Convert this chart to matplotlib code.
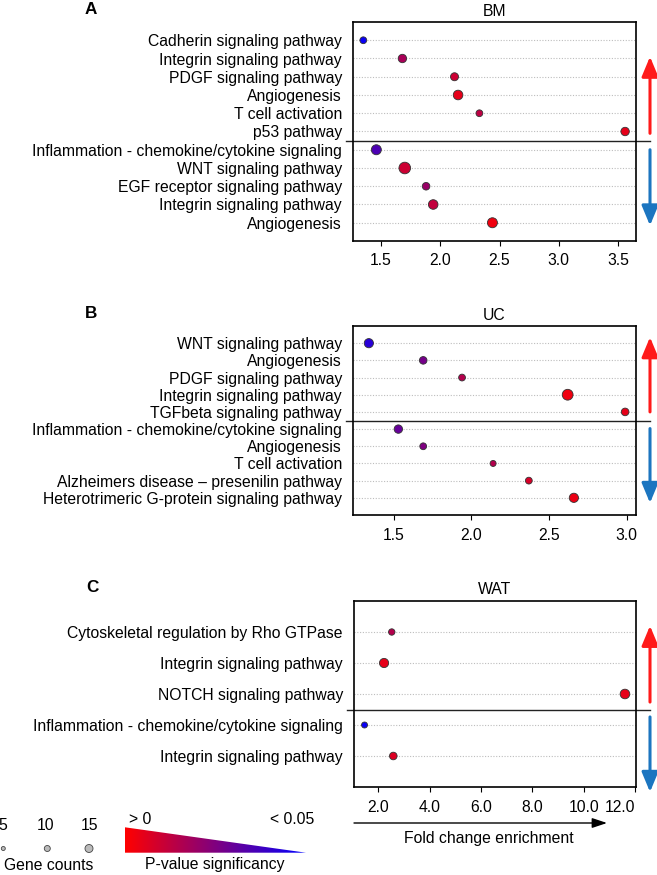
import numpy as np
import matplotlib.pyplot as plt
from matplotlib.colors import LinearSegmentedColormap, Normalize
from matplotlib.patches import Polygon

plt.rcParams['font.family'] = ['Liberation Sans', 'DejaVu Sans']

# ---- data ----
bm_terms = ["Cadherin signaling pathway", "Integrin signaling pathway", "PDGF signaling pathway",
            "Angiogenesis", "T cell activation", "p53 pathway",
            "Inflammation - chemokine/cytokine signaling", "WNT signaling pathway",
            "EGF receptor signaling pathway", "Integrin signaling pathway", "Angiogenesis"]
bm_fold = [1.35, 1.68, 2.12, 2.15, 2.33, 3.56, 1.46, 1.70, 1.88, 1.94, 2.44]
bm_pval = [0.048, 0.017, 0.010, 0.005, 0.013, 0.005, 0.035, 0.010, 0.020, 0.012, 0.003]
bm_genes = [12, 16, 15, 19, 12, 16, 20, 24, 14, 19, 20]
bm_up = 6

uc_terms = ["WNT signaling pathway", "Angiogenesis", "PDGF signaling pathway",
            "Integrin signaling pathway", "TGFbeta signaling pathway",
            "Inflammation - chemokine/cytokine signaling", "Angiogenesis", "T cell activation",
            "Alzheimers disease \u2013 presenilin pathway",
            "Heterotrimeric G-protein signaling pathway"]
uc_fold = [1.34, 1.69, 1.94, 2.62, 2.99, 1.53, 1.69, 2.14, 2.37, 2.66]
uc_pval = [0.042, 0.027, 0.015, 0.003, 0.005, 0.030, 0.025, 0.015, 0.008, 0.004]
uc_genes = [18, 14, 12, 22, 14, 16, 12, 10, 12, 18]
uc_up = 5

wat_terms = ["Cytoskeletal regulation by Rho GTPase", "Integrin signaling pathway",
             "NOTCH signaling pathway", "Inflammation - chemokine/cytokine signaling",
             "Integrin signaling pathway"]
wat_fold = [2.52, 2.22, 11.60, 1.46, 2.58]
wat_pval = [0.015, 0.005, 0.005, 0.048, 0.007]
wat_genes = [11, 18, 19, 10, 14]
wat_up = 3

legend_counts = [5, 10, 15]

W, H = 657, 875
fig = plt.figure(figsize=(W / 100, H / 100), dpi=100)
cmap = LinearSegmentedColormap.from_list('pv', ['#FF0000', '#0000FF'])
norm = Normalize(0, 0.05)
FS = 11.3


def dot_size(n):
    d = 2 + 0.4 * np.asarray(n, dtype=float)  # diameter in px
    return (d * 0.72) ** 2


def px_axes(left, top, right, bottom):
    return fig.add_axes([left / W, 1 - bottom / H, (right - left) / W, (bottom - top) / H])


def panel(box, letter, title, terms, fold, pval, genes, n_up, xlim, xticks, xlabels,
          red_span, blue_span):
    left, top, right, bottom = box
    ax = px_axes(left, top, right, bottom)
    n = len(terms)
    ypos = np.arange(1, n + 1)
    for y in ypos:
        ax.plot(xlim, [y, y], ls=(0, (1, 1.5)), color='#bdbdbd', lw=0.8, zorder=1)
    ax.scatter(fold, ypos, s=dot_size(genes), c=pval, cmap=cmap, norm=norm,
               edgecolors='#333333', linewidths=0.6, zorder=3)
    ax.set_xlim(xlim)
    ax.set_ylim(n + 1, 0)
    ax.set_yticks(ypos)
    ax.set_yticklabels(terms, fontsize=FS)
    ax.tick_params(axis='y', length=0, pad=8)
    ax.set_xticks(xticks)
    ax.set_xticklabels(xlabels, fontsize=FS)
    ax.tick_params(axis='x', length=3.5, pad=5.5, width=0.8)
    for s in ax.spines.values():
        s.set_linewidth(1.2)
    wpx = right - left
    ax.plot([-7 / wpx, 1 + 14 / wpx], [n_up + 0.5] * 2, color='#222222', lw=1.0,
            transform=ax.get_yaxis_transform(), clip_on=False)
    ax.text(0.5, 1 + 11 / (bottom - top), title, transform=ax.transAxes,
            ha='center', va='center', fontsize=FS)
    fig.text((left - 262) / W, 1 - (top - 13) / H, letter, ha='center', va='center',
             fontsize=FS + 1, fontweight='bold')
    ax_x = 1 + 14 / wpx
    tr = ax.get_yaxis_transform()
    for (y0, y1), col in [(red_span, '#FF1A1A'), (blue_span, '#1C75C0')]:
        ax.annotate('', xy=(ax_x, y1), xytext=(ax_x, y0), xycoords=tr, textcoords=tr,
                    annotation_clip=False,
                    arrowprops=dict(arrowstyle='-|>,head_length=1.2,head_width=0.5',
                                    color=col, lw=2.2, shrinkA=0, shrinkB=0))
    return ax


panel((353, 22, 636, 241), 'A', 'BM', bm_terms, bm_fold, bm_pval, bm_genes, bm_up,
      (1.263, 3.652), [1.5, 2.0, 2.5, 3.0, 3.5], ['1.5', '2.0', '2.5', '3.0', '3.5'],
      (6.1, 1.9), (7.0, 11.15))
panel((353, 326, 636, 515), 'B', 'UC', uc_terms, uc_fold, uc_pval, uc_genes, uc_up,
      (1.238, 3.06), [1.5, 2.0, 2.5, 3.0], ['1.5', '2.0', '2.5', '3.0'],
      (5.0, 0.65), (5.97, 10.3))
axc = panel((354, 601, 636, 787), 'C', 'WAT', wat_terms, wat_fold, wat_pval, wat_genes, wat_up,
            (1.05, 12.03), [2, 4, 6, 8, 10, 12], ['2.0', '4.0', '6.0', '8.0', '10.0', '12.0'],
            (3.26, 0.8), (3.74, 6.16))
axc.get_xticklabels()[-1].set_horizontalalignment('right')

# ---- legend / annotation layer in pixel coordinates ----
lay = fig.add_axes([0, 0, 1, 1], zorder=-1)
lay.set_xlim(0, W)
lay.set_ylim(H, 0)
lay.axis('off')

lay.annotate('', xy=(607, 823), xytext=(354, 823),
             arrowprops=dict(arrowstyle='-|>,head_length=0.9,head_width=0.3', color='black',
                             lw=1.0, shrinkA=0, shrinkB=0))
lay.text(489, 838, 'Fold change enrichment', ha='center', va='center', fontsize=FS)

for xc, cnt in zip([3.0, 45.5, 89.3], legend_counts):
    lay.text(xc, 826, str(cnt), ha='center', va='center', fontsize=FS)
lay.scatter([3.3, 47.3, 89], [848.5] * 3, s=[(d * 0.72) ** 2 for d in [4, 6, 8]],
            c='#bbbbbb', edgecolors='#444444', linewidths=0.6)
lay.text(48.5, 866, 'Gene counts', ha='center', va='center', fontsize=FS)

grad = np.linspace(0, 1, 256).reshape(1, -1)
im = lay.imshow(grad, cmap=cmap, extent=(125, 306, 852.7, 827.3), aspect='auto')
tri = Polygon([(125, 827.3), (306, 852.7), (125, 852.7)], closed=True,
              transform=lay.transData, facecolor='none', edgecolor='none')
lay.add_patch(tri)
im.set_clip_path(tri)
lay.text(140, 820, '> 0', ha='center', va='center', fontsize=FS)
lay.text(291.7, 820, '< 0.05', ha='center', va='center', fontsize=FS)
lay.text(215, 864, 'P-value significancy', ha='center', va='center', fontsize=FS)

fig.savefig('out.png', dpi=100)
